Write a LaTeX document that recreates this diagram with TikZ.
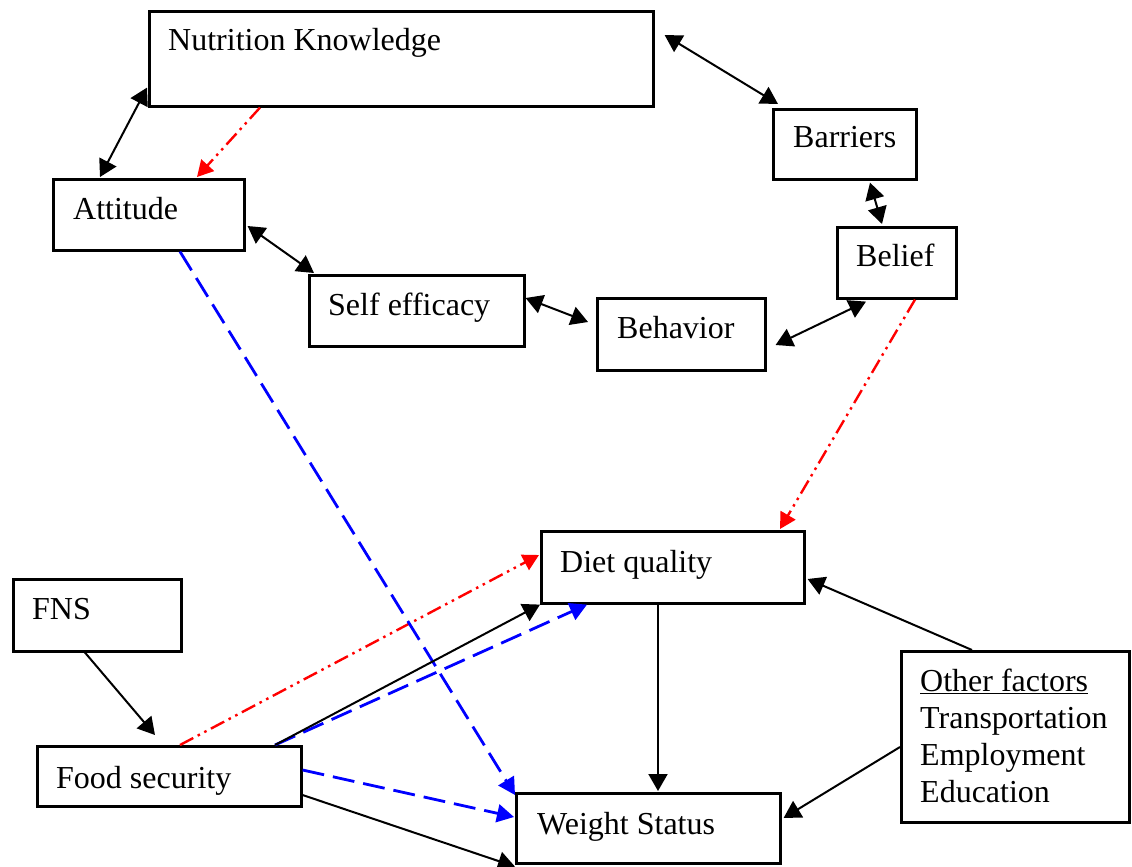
\documentclass[tikz,border=0pt]{standalone}
\usepackage{fontspec}
\setmainfont{Liberation Serif}
\usetikzlibrary{arrows.meta,calc}
\begin{document}
\begin{tikzpicture}[x=1pt,y=-1pt,
  box/.style={draw, line width=2.6pt, inner sep=0pt, anchor=north west},
  txt/.style={anchor=base west, inner sep=0pt, font=\fontsize{32}{37}\selectfont, align=left},
  con/.style={line width=2pt, black},
  tipb/.style={-{Triangle[length=17pt,width=19pt]}},
  tipbb/.style={{Triangle[length=17pt,width=19pt]}-{Triangle[length=17pt,width=19pt]}},
  redline/.style={red, line width=2.4pt, dash pattern=on 15pt off 5pt on 2.5pt off 5pt on 2.5pt off 5pt, -{Triangle[length=16pt,width=17pt]}},
  blueline/.style={blue, line width=2.8pt, dash pattern=on 22pt off 9pt, -{Triangle[length=17pt,width=18pt]}}
]
\useasboundingbox (0,0) rectangle (1132,867);
\fill[white] (0,0) rectangle (1132,867);

% boxes
\node[box, minimum width=504pt, minimum height=95pt] (nk) at (148,10) {};
\node[box, minimum width=143pt, minimum height=70pt] (bar) at (772,108) {};
\node[box, minimum width=191pt, minimum height=71pt] (att) at (52,178) {};
\node[box, minimum width=119pt, minimum height=71pt] (bel) at (836,226) {};
\node[box, minimum width=215pt, minimum height=71pt] (se) at (308,274) {};
\node[box, minimum width=168pt, minimum height=72pt] (beh) at (596,297) {};
\node[box, minimum width=263pt, minimum height=72pt] (dq) at (540,530) {};
\node[box, minimum width=168pt, minimum height=72pt] (fns) at (12,578) {};
\node[box, minimum width=228pt, minimum height=171pt] (of) at (900,650) {};
\node[box, minimum width=264pt, minimum height=60pt] (fs) at (36,745) {};
\node[box, minimum width=264pt, minimum height=70pt] (ws) at (515,792) {};

% texts
\node[txt] (nkt) at ($(nk.north west)+(20,41)$) {Nutrition Knowledge};
\node[txt] (bart) at ($(bar.north west)+(21,39)$) {Barriers};
\node[txt] (attt) at ($(att.north west)+(21,41)$) {Attitude};
\node[txt] (belt) at ($(bel.north west)+(20,40)$) {Belief};
\node[txt] (set) at ($(se.north west)+(20,41)$) {Self efficacy};
\node[txt] (beht) at ($(beh.north west)+(21,41)$) {Behavior};
\node[txt] (dqt) at ($(dq.north west)+(20,42)$) {Diet quality};
\node[txt] (fnst) at ($(fns.north west)+(20,41)$) {FNS};
\node[txt] (oft1) at ($(of.north west)+(20,41)$) {\underline{Other factors}};
\node[txt] (oft2) at ($(of.north west)+(20,78)$) {Transportation};
\node[txt] (oft3) at ($(of.north west)+(20,115)$) {Employment};
\node[txt] (oft4) at ($(of.north west)+(20,152)$) {Education};
\node[txt] (fst) at ($(fs.north west)+(20,43)$) {Food security};
\node[txt] (wst) at ($(ws.north west)+(22,42)$) {Weight Status};

% black double arrows
\draw[con,tipbb] ($(att.north west)+(48,-1)$) -- ($(nk.south west)+(-1,-20)$);
\draw[con,tipbb] ($(nk.north east)+(10,25)$) -- ($(bar.north west)+(6,-4)$);
\draw[con,tipbb] ($(bar.south west)+(98,2)$) -- ($(bel.north west)+(46,-2)$);
\draw[con,tipbb] ($(att.north east)+(2,48)$) -- ($(se.north west)+(6,-1)$);
\draw[con,tipbb] ($(se.north east)+(0,24)$) -- ($(beh.north west)+(-8,25)$);
\draw[con,tipbb] ($(bel.south west)+(30,2)$) -- ($(beh.north east)+(9,48)$);

% red dash-dot-dot
\draw[redline] ($(nk.south west)+(112,0)$) -- ($(att.north west)+(145,-1)$);
\draw[redline] ($(bel.south west)+(79,0)$) -- ($(dq.north west)+(240,-1)$);
\draw[redline] ($(fs.north west)+(144,0)$) -- ($(dq.north west)+(-1,25)$);

% blue dashed
\draw[blueline] ($(att.south west)+(128,0)$) -- ($(ws.north west)+(0,3)$);
\draw[blueline] ($(fs.north west)+(239,0)$) -- ($(dq.south west)+(47,0)$);
\draw[blueline] ($(fs.north east)+(0,25)$) -- ($(ws.north west)+(-1,25)$);

% black single arrows
\draw[con,tipb] ($(fns.south west)+(73,0)$) -- ($(fs.north west)+(119,-10)$);
\draw[con,tipb] ($(fs.north west)+(239,0)$) -- (dq.south west);
\draw[con,tipb] ($(fs.north east)+(0,50)$) -- ($(ws.south west)+(0,2)$);
\draw[con,tipb] ($(dq.south west)+(118,0)$) -- ($(ws.north west)+(143,-1)$);
\draw[con,tipb] ($(of.north west)+(72,0)$) -- ($(dq.north east)+(2,49)$);
\draw[con,tipb] ($(of.north west)+(0,97)$) -- ($(ws.north east)+(2,26)$);
\end{tikzpicture}
\end{document}
